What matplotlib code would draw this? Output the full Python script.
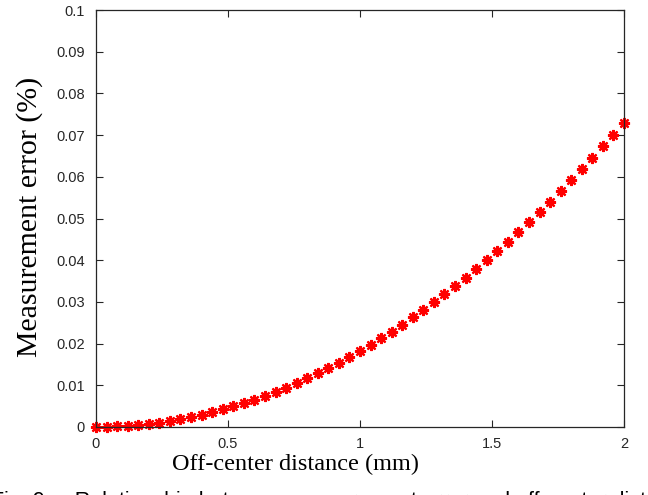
import matplotlib
matplotlib.use('Agg')
import matplotlib.pyplot as plt

# distancia descentrada (mm) y error de medida (%)
distancia = [0.00, 0.04, 0.08, 0.12, 0.16, 0.20, 0.24, 0.28, 0.32, 0.36,
             0.40, 0.44, 0.48, 0.52, 0.56, 0.60, 0.64, 0.68, 0.72, 0.76,
             0.80, 0.84, 0.88, 0.92, 0.96, 1.00, 1.04, 1.08, 1.12, 1.16,
             1.20, 1.24, 1.28, 1.32, 1.36, 1.40, 1.44, 1.48, 1.52, 1.56,
             1.60, 1.64, 1.68, 1.72, 1.76, 1.80, 1.84, 1.88, 1.92, 1.96,
             2.00]
error = [0.00000, 0.00003, 0.00012, 0.00026, 0.00047, 0.00073, 0.00105, 0.00143,
         0.00187, 0.00237, 0.00292, 0.00353, 0.00421, 0.00494, 0.00572, 0.00657,
         0.00748, 0.00844, 0.00946, 0.01054, 0.01168, 0.01288, 0.01413, 0.01545,
         0.01682, 0.01825, 0.01974, 0.02129, 0.02289, 0.02456, 0.02628, 0.02806,
         0.02990, 0.03180, 0.03376, 0.03577, 0.03784, 0.03998, 0.04217, 0.04441,
         0.04672, 0.04909, 0.05151, 0.05399, 0.05653, 0.05913, 0.06179, 0.06450,
         0.06728, 0.07011, 0.07300]

xticks = [0, 0.5, 1, 1.5, 2]
xtick_labels = ['0', '0.5', '1', '1.5', '2']
yticks = [0, 0.01, 0.02, 0.03, 0.04, 0.05, 0.06, 0.07, 0.08, 0.09, 0.1]
ytick_labels = ['0', '0.01', '0.02', '0.03', '0.04', '0.05', '0.06', '0.07',
                '0.08', '0.09', '0.1']

fig = plt.figure(figsize=(6.48, 4.95), dpi=100)
ax = fig.add_axes([96/648, 1 - 427/495, 528/648, 417/495])

ax.plot(distancia, error, linestyle='none', marker=(8, 2, 0), color='red',
        markersize=8, markeredgewidth=1.6, clip_on=False)

ax.set_xlim(0, 2)
ax.set_ylim(0, 0.1)
ax.set_xticks(xticks)
ax.set_xticklabels(xtick_labels, fontsize=10.5, family='Liberation Sans', color='#262626')
ax.set_yticks(yticks)
ax.set_yticklabels(ytick_labels, fontsize=10.5, family='Liberation Sans', color='#262626')
ax.tick_params(axis='both', direction='in', top=True, right=True,
               length=5, width=0.8, color='#262626')
ax.tick_params(axis='x', pad=7)
ax.tick_params(axis='y', pad=8)
for s in ax.spines.values():
    s.set_color('#262626')
    s.set_linewidth(0.9)

ax.set_xlabel('Off-center distance (mm)', family='Liberation Serif', fontsize=17.5)
ax.xaxis.set_label_coords((296 - 96) / 528, -0.065)
ax.set_ylabel('Measurement error (%)', family='Liberation Serif', fontsize=21.5)
ax.yaxis.set_label_coords(-0.100, 0.505)

# pie de figura recortado
fig.text(-0.014, 0.008, 'Fig. 9     Relationship between measurement error and off-center distance',
         family='Liberation Sans', fontsize=15.5, va='top', ha='left')

fig.savefig('out.png', dpi=100)
